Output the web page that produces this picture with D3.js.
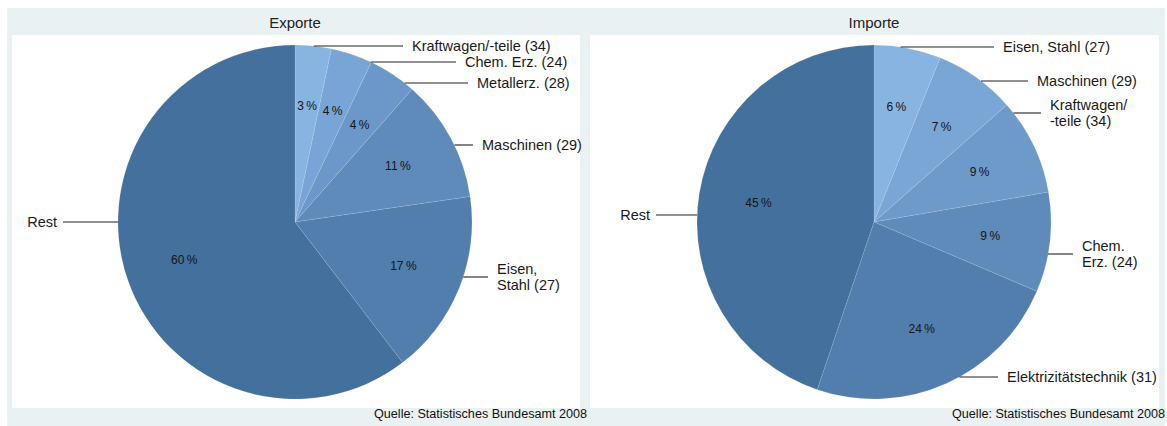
<!DOCTYPE html>
<html>
<head>
<meta charset="utf-8">
<script src="https://cdn.jsdelivr.net/npm/d3@7"></script>
<style>
  html, body { margin: 0; padding: 0; background: #ffffff; }
  svg { display: block; }
  text { font-family: "Liberation Sans", Arial, sans-serif; }
</style>
</head>
<body>
<svg id="chart" width="1167" height="426"></svg>
<script>
// ---- data ----
const titles = ["Exporte", "Importe"];
const exportLabels = ["Kraftwagen/-teile (34)", "Chem. Erz. (24)", "Metallerz. (28)", "Maschinen (29)", "Eisen,\nStahl (27)", "Rest"];
const exportValues = [3.3, 3.8, 4.4, 11.2, 16.9, 60.4];
const importLabels = ["Eisen, Stahl (27)", "Maschinen (29)", "Kraftwagen/\n-teile (34)", "Chem.\nErz. (24)", "Elektrizitätstechnik (31)", "Rest"];
const importValues = [6.1, 7.4, 8.8, 9.1, 23.8, 44.8];
const sourceText = "Quelle: Statistisches Bundesamt 2008";

// ---- layout / style ----
const exportColors = ["#88b4e1", "#78a5d5", "#6b98c8", "#5f8bbb", "#527ead", "#44709e"];
const importColors = ["#88b4e1", "#7aa6d6", "#6d9ac9", "#5f8bbb", "#527ead", "#44709e"];
const exportLabelDy = [-176, -160, -139, -77, 55, 0];
const exportTextDx = [117, 170, 182, 187, 202, -238];
const importLabelDy = [-175, -141, -109, 32, 155, -7];
const importTextDx = [129, 163, 176, 208, 133, -224];

const svg = d3.select("#chart");
const R = 177;

// background frame
svg.append("rect").attr("x", 7).attr("y", 8).attr("width", 1158).attr("height", 418).attr("fill", "#e9f1f3");
svg.append("rect").attr("x", 12).attr("y", 35).attr("width", 568).attr("height", 373).attr("fill", "#ffffff");
svg.append("rect").attr("x", 590).attr("y", 35).attr("width", 569).attr("height", 373).attr("fill", "#ffffff");

function drawPie(cx, cy, title, labels, values, colors, labelDy, textDx, sourceX) {
  const g = svg.append("g");
  g.append("text").attr("x", cx).attr("y", 28).attr("text-anchor", "middle")
    .attr("font-size", 15).attr("fill", "#222").text(title);

  const pie = d3.pie().sort(null).value(d => d.v);
  const arcs = pie(values.map((v, i) => ({ v, label: labels[i], i })));
  const arc = d3.arc().innerRadius(0).outerRadius(R);
  const labelArc = d3.arc().innerRadius(117).outerRadius(117);

  const pg = g.append("g").attr("transform", `translate(${cx},${cy})`);
  pg.selectAll("path").data(arcs).join("path")
    .attr("d", arc)
    .attr("fill", (d, i) => colors[i])
    .attr("stroke", "rgba(255,255,255,0.14)")
    .attr("stroke-width", 0.8);

  pg.selectAll("text.pct").data(arcs).join("text")
    .attr("class", "pct")
    .attr("transform", d => `translate(${labelArc.centroid(d)})`)
    .attr("text-anchor", "middle")
    .attr("dy", "0.35em")
    .attr("font-size", 12)
    .attr("fill", "#151515")
    .text(d => Math.round(d.data.v) + "\u2009%");

  // outside labels
  arcs.forEach((d, i) => {
    const dy = labelDy[i];
    const mid = (d.startAngle + d.endAngle) / 2;
    const side = Math.sin(mid) >= 0 ? 1 : -1;
    const dxCircle = side * Math.sqrt(Math.max(0, R * R - dy * dy));
    const tx = textDx[i];
    const lineEnd = side > 0 ? tx - 9 : tx + 6;
    pg.append("line")
      .attr("x1", dxCircle).attr("y1", dy)
      .attr("x2", lineEnd).attr("y2", dy)
      .attr("stroke", "#222").attr("stroke-width", 1.1);
    const lines = d.data.label.split("\n");
    const lh = 16;
    const t = pg.append("text")
      .attr("x", tx)
      .attr("text-anchor", side > 0 ? "start" : "end")
      .attr("font-size", 14.5)
      .attr("fill", "#1a1a1a");
    lines.forEach((ln, k) => {
      t.append("tspan").attr("x", tx)
        .attr("y", dy + (k - (lines.length - 1) / 2) * lh)
        .attr("dy", "0.35em")
        .text(ln);
    });
  });

  g.append("text").attr("x", sourceX).attr("y", 418).attr("text-anchor", "end")
    .attr("font-size", 12).attr("fill", "#111")
    .attr("textLength", 213).attr("lengthAdjust", "spacingAndGlyphs")
    .text(sourceText);
}

drawPie(295, 222, titles[0], exportLabels, exportValues, exportColors, exportLabelDy, exportTextDx, 587);
drawPie(874, 222, titles[1], importLabels, importValues, importColors, importLabelDy, importTextDx, 1165);
</script>
</body>
</html>
